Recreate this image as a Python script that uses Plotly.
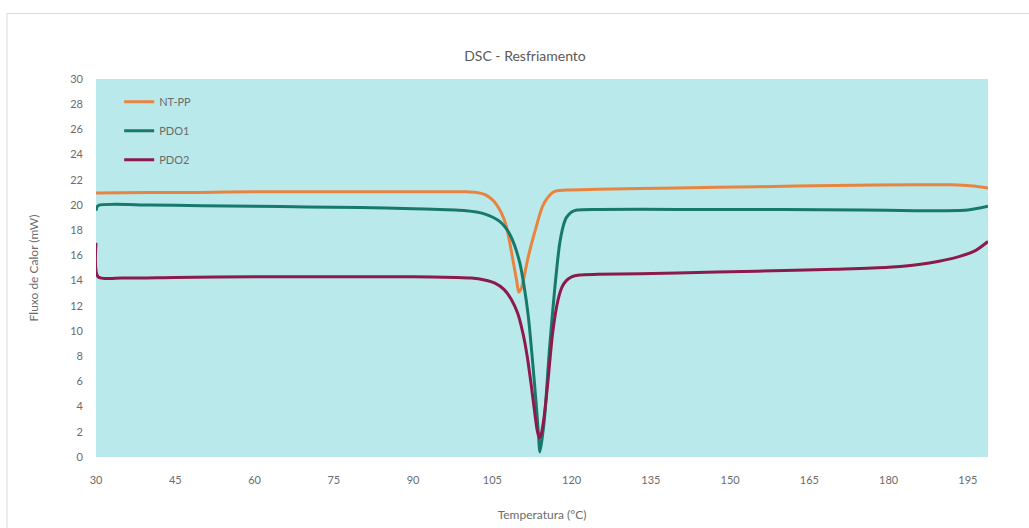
import plotly.graph_objects as go

# Temperatura (°C) e fluxo de calor (mW) de cada amostra no resfriamento
temp_ntpp = [30, 40, 50, 60, 70, 80, 90, 96, 100, 102.0, 103.5, 104.5, 105.3, 106.0,
             106.8, 107.6, 108.3, 109.0, 109.6, 110.0, 110.5, 111.0, 111.7, 112.4,
             113.0, 113.8, 114.5, 115.5, 116.4, 117.5, 119.0, 125, 140, 155, 170,
             185, 192, 196, 198.8]
fluxo_ntpp = [20.95, 21.0, 21.0, 21.05, 21.05, 21.05, 21.05, 21.05, 21.05, 21.0, 20.85,
              20.6, 20.3, 19.9, 19.3, 18.4, 17.0, 15.4, 14.0, 13.1, 13.4, 14.3, 15.7,
              16.9, 17.8, 19.0, 19.9, 20.6, 21.0, 21.15, 21.2, 21.25, 21.35, 21.45,
              21.55, 21.6, 21.6, 21.5, 21.35]

temp_pdo1 = [30, 30.4, 40, 50, 60, 70, 80, 90, 95, 98, 100, 102.0, 103.5, 105.0,
             106.4, 107.5, 108.4, 109.2, 110.2, 111.0, 111.8, 112.7, 113.3, 113.7,
             114.0, 114.4, 114.9, 115.8, 116.8, 117.7, 118.4, 119.0, 120.0, 121.0,
             125, 140, 160, 175, 185, 190, 195, 198.8]
fluxo_pdo1 = [19.55, 19.95, 20.0, 19.95, 19.9, 19.85, 19.8, 19.7, 19.65, 19.6, 19.55,
              19.45, 19.3, 19.05, 18.7, 18.2, 17.6, 16.8, 15.4, 13.6, 11.2, 7.2, 4.2,
              2.0, 0.4, 1.4, 3.2, 8.5, 13.3, 16.8, 18.3, 19.0, 19.45, 19.6, 19.65,
              19.65, 19.65, 19.6, 19.55, 19.55, 19.6, 19.9]

temp_pdo2 = [30, 30.4, 35, 45, 60, 75, 90, 98, 101.0, 103.5, 105.5, 107.2, 108.6,
             109.8, 110.8, 111.6, 112.3, 113.0, 113.5, 113.9, 114.3, 114.8, 115.5,
             116.4, 117.4, 118.2, 119.0, 120.0, 121.5, 125, 140, 155, 170, 180, 187.7,
             193.3, 196.5, 198.8]
fluxo_pdo2 = [17.0, 14.3, 14.2, 14.25, 14.3, 14.3, 14.3, 14.25, 14.2, 14.05, 13.8,
              13.3, 12.5, 11.4, 9.8, 8.0, 5.9, 3.6, 2.1, 1.5, 1.9, 3.2, 5.9, 9.8,
              12.4, 13.5, 14.0, 14.3, 14.45, 14.5, 14.6, 14.75, 14.9, 15.05, 15.4,
              15.9, 16.4, 17.1]

x_ticks = [30, 45, 60, 75, 90, 105, 120, 135, 150, 165, 180, 195]
y_ticks = list(range(0, 31, 2))

series = [
    ("NT-PP", temp_ntpp, fluxo_ntpp, "#E8843F"),
    ("PDO1", temp_pdo1, fluxo_pdo1, "#17796C"),
    ("PDO2", temp_pdo2, fluxo_pdo2, "#8C1A4C"),
]

FONT = "Lato, 'Open Sans', sans-serif"
GREY = "#6b6b6b"

fig = go.Figure()
for name, t, f, color in series:
    fig.add_trace(go.Scatter(
        x=t, y=f, name=name, mode="lines", legendgroup=name,
        line=dict(color=color, width=3, shape="spline", smoothing=0.7),
    ))

fig.update_layout(
    width=1029, height=528,
    margin=dict(l=96, r=41, t=79, b=71),
    paper_bgcolor="white",
    plot_bgcolor="#B9E9EA",
    font=dict(family=FONT, color=GREY, size=12),
    title=dict(text="DSC - Resfriamento", x=525 / 1029, xanchor="center",
               y=1 - 56 / 528, yanchor="middle",
               font=dict(family=FONT, size=14, color="#595959")),
    showlegend=True,
    legend=dict(x=0.026, y=0.978, xanchor="left", yanchor="top",
                bgcolor="rgba(0,0,0,0)", tracegroupgap=10,
                font=dict(family=FONT, size=11, color=GREY)),
    xaxis=dict(range=[30, 198.8], tickvals=x_ticks, showgrid=False, zeroline=False,
               showline=False, ticks="", ticklabelstandoff=15, automargin=False,
               tickfont=dict(size=11, color=GREY),
               title=dict(text="Temperatura (°C)", standoff=25,
                          font=dict(size=12, color=GREY))),
    yaxis=dict(range=[0, 30], tickvals=y_ticks, showgrid=False, zeroline=False,
               showline=False, ticks="", ticklabelstandoff=12, automargin=False,
               tickfont=dict(size=11, color=GREY),
               title=dict(text="Fluxo de Calor (mW)", standoff=29,
                          font=dict(size=12, color=GREY))),
)

# moldura clara da área do gráfico
fig.add_shape(type="rect", xref="paper", yref="paper",
              x0=(7 - 96) / 892, x1=1.2, y0=-0.5, y1=(457 - 13.5) / 378,
              line=dict(color="#dcdcdc", width=1), fillcolor="rgba(0,0,0,0)",
              layer="below")

fig.write_html("out.html")
